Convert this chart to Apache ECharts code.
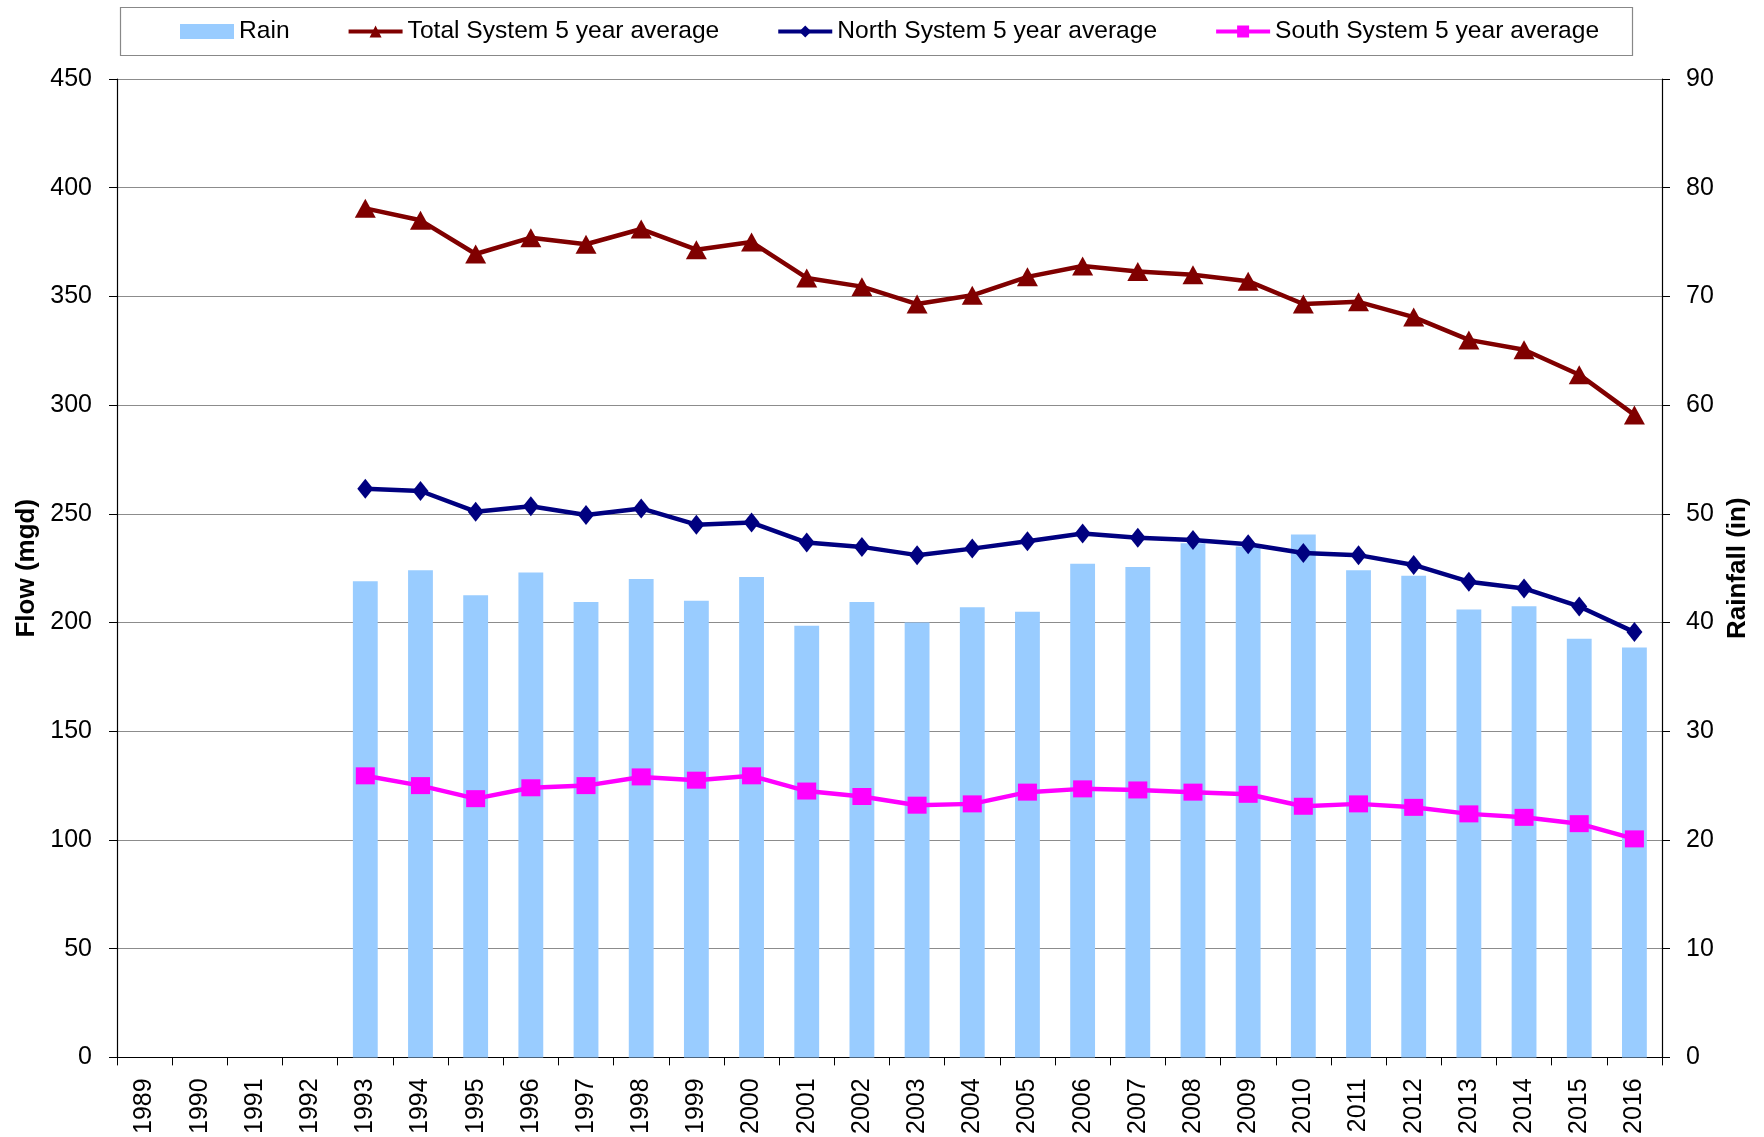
<!DOCTYPE html>
<html>
<head>
<meta charset="utf-8">
<script src="https://cdn.jsdelivr.net/npm/echarts@6/dist/echarts.min.js"></script>
<style>
html,body{margin:0;padding:0;background:#fff;}
#chart{width:1764px;height:1137px;}
</style>
</head>
<body>
<div id="chart"></div>
<script>
const years = ['1989','1990','1991','1992','1993','1994','1995','1996','1997','1998','1999','2000','2001','2002','2003','2004','2005','2006','2007','2008','2009','2010','2011','2012','2013','2014','2015','2016'];
const rain = [null,null,null,null,43.8,44.8,42.5,44.6,41.9,44.0,42.0,44.2,39.7,41.9,40.0,41.4,41.0,45.4,45.1,47.3,47.0,48.1,44.8,44.3,41.2,41.5,38.5,37.7];
const totalAvg = [null,null,null,null,390.5,385,369.5,377,374,381,371.5,375,358.5,354.5,346.5,350.5,359,364,361.5,360,357,346.5,347.5,340.5,330,325.5,314,295.5];
const northAvg = [null,null,null,null,261.5,260.5,251,253.5,249.5,252.5,245,246,236.8,234.8,231,234,237.4,241,239,238,236,232,231,226.5,218.8,215.7,207.4,195.6];
const southAvg = [null,null,null,null,129.5,125,119,124,125,129,127.5,129.5,122.5,120,116,116.6,122,123.5,123,122,121,115.5,116.6,115,112,110.4,107.5,100.5];
const flowTicks = {min:0, max:450, interval:50};
const rainTicks = {min:0, max:90, interval:10};

const FONT = '"Liberation Sans", Arial, sans-serif';
const chart = echarts.init(document.getElementById('chart'), null, {renderer:'canvas'});
chart.setOption({
  animation:false,
  backgroundColor:'#ffffff',
  textStyle:{fontFamily:FONT},
  graphic:[{
    type:'rect', left:118, top:5, shape:{width:1512, height:48},
    style:{fill:'none', stroke:'#888888', lineWidth:1.2}, z:-1
  }],
  legend:{
    left:180, top:19, padding:0, itemGap:57, itemWidth:54, itemHeight:15,
    lineStyle:{width:4},
    textStyle:{fontSize:24.6, color:'#000', fontFamily:FONT},
    data:[
      {name:'Rain', icon:'rect'},
      'Total System 5 year average','North System 5 year average','South System 5 year average'
    ]
  },
  grid:{left:117, right:102, top:79, bottom:77, containLabel:false},
  xAxis:{
    type:'category', data:years, boundaryGap:true,
    axisLine:{lineStyle:{color:'#000', width:1.2}},
    axisTick:{show:true, length:8, lineStyle:{color:'#000'}},
    axisLabel:{rotate:90, fontSize:25, color:'#000', margin:21, fontFamily:FONT},
    splitLine:{show:false}
  },
  yAxis:[{
    type:'value', min:flowTicks.min, max:flowTicks.max, interval:flowTicks.interval,
    name:'Flow (mgd)', nameLocation:'middle', nameGap:77, nameRotate:90,
    nameTextStyle:{fontSize:26, fontWeight:'bold', color:'#000', fontFamily:FONT},
    axisLine:{show:true, lineStyle:{color:'#000', width:1.2}},
    axisTick:{show:true, length:8, lineStyle:{color:'#000'}},
    axisLabel:{fontSize:25, color:'#000', margin:25, fontFamily:FONT},
    splitLine:{show:true, lineStyle:{color:'#8c8c8c', width:1.2}}
  },{
    type:'value', min:rainTicks.min, max:rainTicks.max, interval:rainTicks.interval,
    position:'right',
    name:'Rainfall (in)', nameLocation:'middle', nameGap:62, nameRotate:90,
    nameTextStyle:{fontSize:26, fontWeight:'bold', color:'#000', fontFamily:FONT},
    axisLine:{show:true, lineStyle:{color:'#000', width:1.2}},
    axisTick:{show:true, length:8, lineStyle:{color:'#000'}},
    axisLabel:{fontSize:25, color:'#000', margin:24, fontFamily:FONT},
    splitLine:{show:false}
  }],
  series:[{
    name:'Rain', type:'bar', yAxisIndex:1, data:rain, barWidth:'45%',
    itemStyle:{color:'#99ccff'}, z:1
  },{
    name:'Total System 5 year average', type:'line', data:totalAvg,
    symbol:'triangle', symbolSize:[21,19],
    lineStyle:{color:'#800000', width:4.5}, itemStyle:{color:'#800000'}, z:3
  },{
    name:'North System 5 year average', type:'line', data:northAvg,
    symbol:'diamond', symbolSize:[16,20],
    lineStyle:{color:'#000080', width:4.5}, itemStyle:{color:'#000080'}, z:3
  },{
    name:'South System 5 year average', type:'line', data:southAvg,
    symbol:'rect', symbolSize:[19,17],
    lineStyle:{color:'#ff00ff', width:4.5}, itemStyle:{color:'#ff00ff'}, z:3
  }]
});
</script>
</body>
</html>
